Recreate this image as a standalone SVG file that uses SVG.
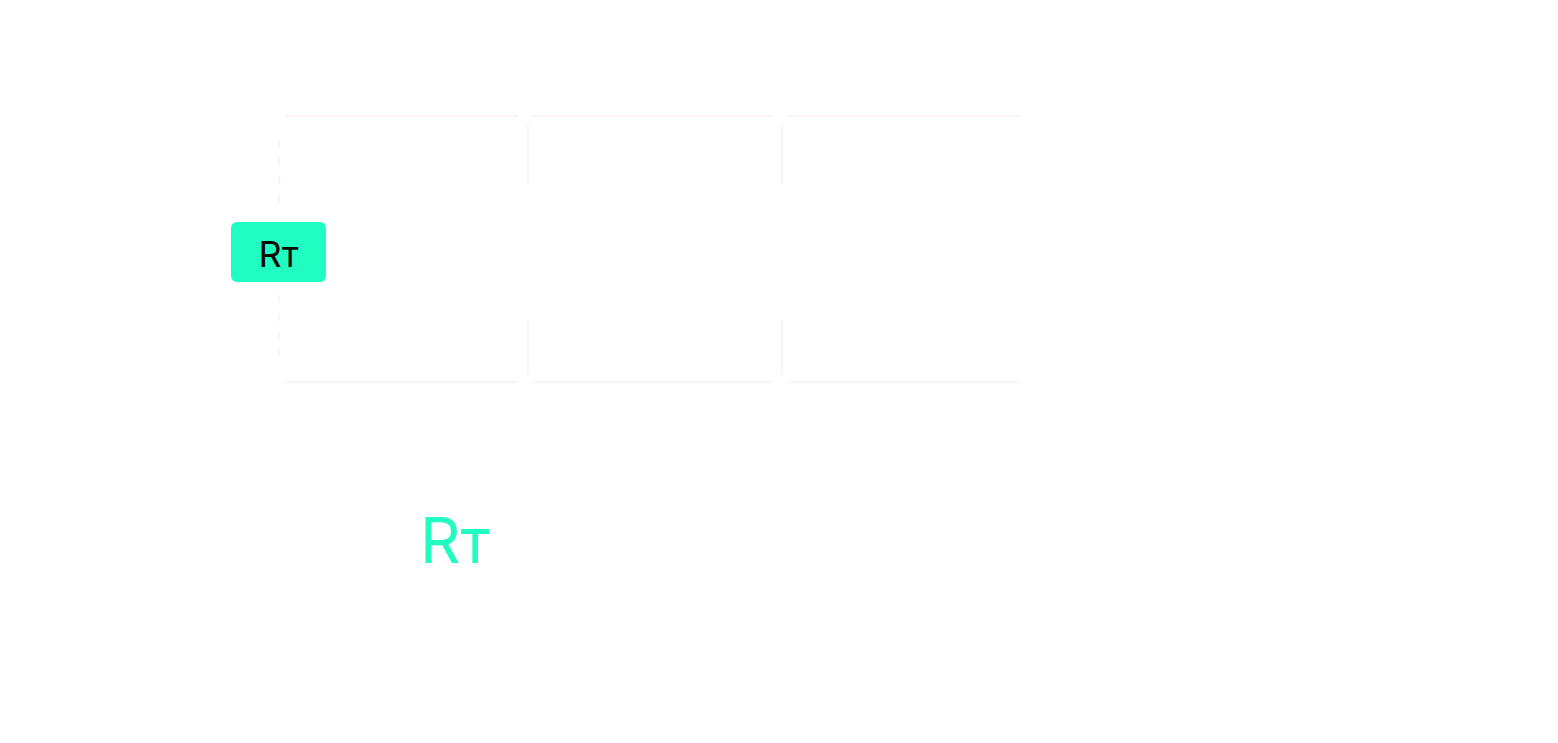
<svg xmlns="http://www.w3.org/2000/svg" width="1558" height="743" viewBox="0 0 1558 743">
<style>
.f{stroke:#fcf3f4;stroke-width:2;fill:none}
.t{font-family:Inter,"Liberation Sans",sans-serif}
</style>
<rect width="1558" height="743" fill="#fff"/>
<g id="connectors">
<path class="f" d="M285 116H518M532 116H772M788 116H1020M285 382H518M532 382H772M788 382H1020"/>
<path class="f" d="M528 125V185M782 125V185M528 320V375M782 320V375"/>
<path class="f" stroke-dasharray="8 10" d="M279 140V210M279 295V362"/>
</g>
<g id="badge">
<rect x="231" y="222" width="95" height="60" rx="6" fill="#1ffec0"/>
<text class="t" x="278.5" y="267" font-size="36" text-anchor="middle" fill="#0a0a0a">Rт</text>
</g>
<g id="logo">
<text class="t" x="455" y="563" font-size="63" text-anchor="middle" fill="#1ffec0">Rт</text>
</g>
</svg>
